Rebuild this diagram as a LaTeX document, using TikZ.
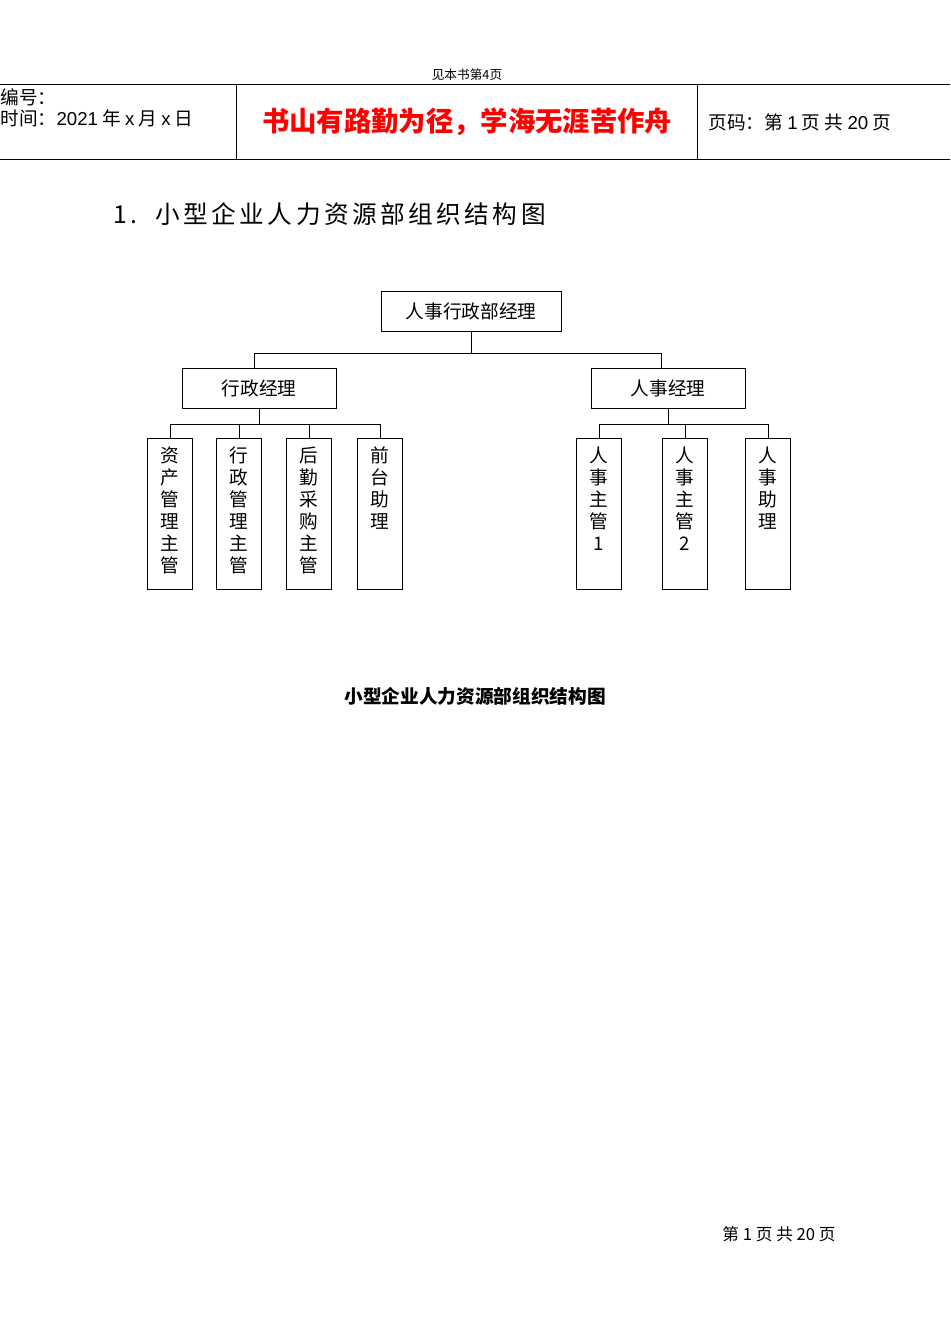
\documentclass[tikz,border=0pt]{standalone}
\usepackage{fontspec}
\setmainfont{Noto Sans CJK SC}
\newfontfamily\lat{Liberation Sans}
\newfontfamily\spaced[LetterSpace=14]{Noto Sans CJK SC}
\begin{document}
\begin{tikzpicture}[x=0.75pt,y=-0.75pt,line width=0.75pt,
  box/.style={draw,inner sep=0pt,font=\fontsize{14}{16}\selectfont},
  vbox/.style={draw,minimum width=33.75pt,minimum height=113pt,inner sep=0pt,anchor=north},
  vtxt/.style={anchor=north,inner sep=0pt,font=\fontsize{14}{16.5}\selectfont,align=center}]
\useasboundingbox (0,0) rectangle (950,1342);
\node[font=\fontsize{9.5}{11}\selectfont] (hdr) at (467,75) {见本书第4页};
\draw (0,84) -- (950,84) (0,159) -- (950,159) (236,84) -- (236,159) (697,84) -- (697,159);
\node[anchor=west,inner sep=0pt,font=\fontsize{14}{16}\selectfont] (bh) at (0,97) {编号：};
\node[anchor=west,inner sep=0pt,font=\fontsize{14}{16}\selectfont] (sj) at (0,118) {时间：{\lat 2021} 年 {\lat x} 月 {\lat x} 日};
\node[font=\fontsize{20.5}{22}\selectfont\bfseries,text=red] (motto) at (467,122) {书山有路勤为径，学海无涯苦作舟};
\node[anchor=west,inner sep=0pt,font=\fontsize{14}{16}\selectfont] (ym) at (708,122) {页码：第 {\lat 1} 页 共 {\lat 20} 页};
\node[anchor=west,inner sep=0pt,font=\fontsize{18.5}{20}\selectfont\spaced] (title) at (113,214) {1.\ \ 小型企业人力资源部组织结构图};
\node[box,minimum width=135pt,minimum height=30pt] (root) at (471,311) {人事行政部经理};
\node[box,minimum width=115.5pt,minimum height=30pt] (xz) at (259,388) {行政经理};
\node[box,minimum width=115.5pt,minimum height=30pt] (rs) at (668,388) {人事经理};
\coordinate (j1) at (471,353);
\draw (root.south) -- (j1) (254,353) -- (661,353) (254,353) -- (254,368) (661,353) -- (661,368);
\foreach \n/\x/\t in {a1/170/资\\产\\管\\理\\主\\管, a2/239/行\\政\\管\\理\\主\\管, a3/309/后\\勤\\采\\购\\主\\管, a4/380/前\\台\\助\\理, b1/599/人\\事\\主\\管\\1, b2/685/人\\事\\主\\管\\2, b3/768/人\\事\\助\\理} {
  \node[vbox] (\n) at (\x,438) {};
  \node[vtxt] (\n t) at (\x,446) {\t};
}
\draw (xz.south) -- (259,424) (170,424) -- (380,424);
\foreach \n in {a1,a2,a3,a4} \draw (\n.north) -- (\n.north |- 0,424);
\draw (rs.south) -- (668,424) (599,424) -- (768,424);
\foreach \n in {b1,b2,b3} \draw (\n.north) -- (\n.north |- 0,424);
\node[font=\fontsize{14}{16}\selectfont\bfseries] (cap) at (475,696) {小型企业人力资源部组织结构图};
\node[font=\fontsize{12.5}{14}\selectfont] (ft) at (779,1234) {第 1 页 共 20 页};
\end{tikzpicture}
\end{document}
